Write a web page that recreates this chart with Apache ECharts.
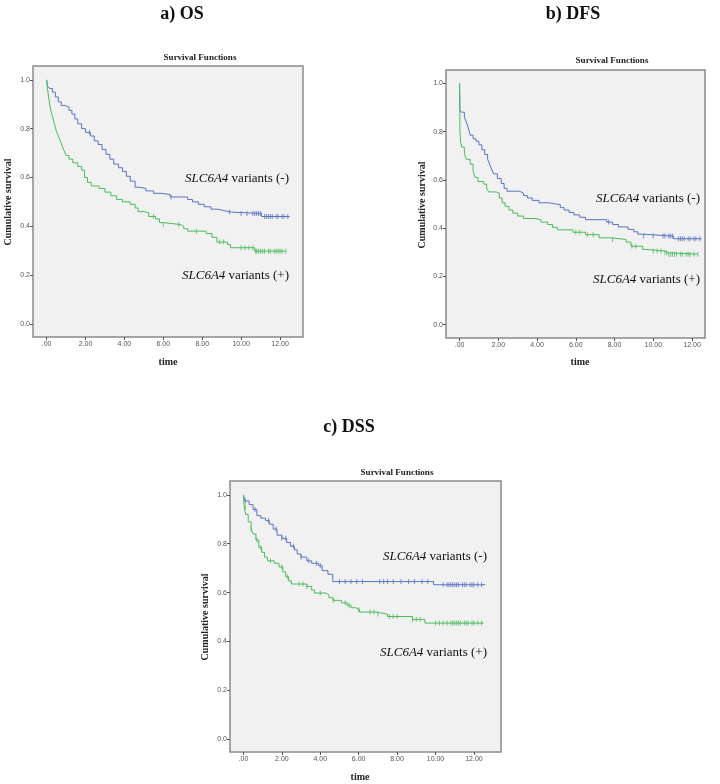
<!DOCTYPE html>
<html><head><meta charset="utf-8">
<script src="https://cdn.jsdelivr.net/npm/echarts@6/dist/echarts.min.js"></script>
<style>html,body{margin:0;padding:0;background:#fff}#c{width:720px;height:784px}</style>
</head><body><div id="c"></div>
<script>
// ---- data ----
const panelTitles = ['a) OS', 'b) DFS', 'c) DSS'];
const xTicks = [0, 2, 4, 6, 8, 10, 12];
const yTicks = [0, 0.2, 0.4, 0.6, 0.8, 1.0];
const groupNames = ['SLC6A4 variants (-)', 'SLC6A4 variants (+)'];

const osNeg = [[0,1.0],[0.05,0.975],[0.15,0.965],[0.3,0.95],[0.45,0.93],[0.6,0.91],[0.75,0.895],[0.95,0.888],[1.15,0.875],[1.3,0.86],[1.45,0.84],[1.6,0.82],[1.8,0.8],[2.0,0.785],[2.25,0.77],[2.45,0.75],[2.65,0.735],[2.85,0.715],[3.05,0.695],[3.25,0.675],[3.45,0.655],[3.7,0.64],[3.9,0.625],[4.1,0.605],[4.3,0.585],[4.55,0.56],[4.75,0.555],[5.1,0.545],[5.5,0.535],[5.9,0.53],[6.35,0.52],[7.25,0.51],[7.5,0.5],[7.8,0.49],[8.1,0.48],[8.45,0.47],[8.8,0.465],[9.05,0.458],[9.5,0.452],[11.05,0.44],[12.5,0.44]];
const osPos = [[0,1.0],[0.05,0.96],[0.12,0.92],[0.2,0.88],[0.3,0.85],[0.4,0.82],[0.5,0.79],[0.6,0.77],[0.7,0.75],[0.8,0.73],[0.9,0.71],[1.0,0.69],[1.15,0.675],[1.35,0.66],[1.6,0.645],[1.8,0.63],[1.95,0.6],[2.1,0.58],[2.3,0.565],[2.7,0.555],[3.0,0.54],[3.3,0.525],[3.6,0.51],[3.9,0.5],[4.3,0.49],[4.55,0.475],[4.7,0.46],[5.0,0.455],[5.25,0.44],[5.6,0.43],[5.8,0.415],[6.0,0.407],[6.9,0.4],[7.05,0.39],[7.25,0.38],[8.2,0.37],[8.5,0.355],[8.75,0.335],[9.3,0.325],[9.45,0.312],[10.7,0.298],[12.3,0.298]];
const osNegCens = [2.2,6.4,9.4,10.0,10.3,10.6,10.7,10.8,10.9,11.0,11.2,11.3,11.4,11.5,11.6,11.8,11.9,12.1,12.2,12.4];
const osPosCens = [5.5,6.0,6.8,7.7,8.9,9.1,10.0,10.2,10.4,10.6,10.75,10.8,10.9,11.0,11.1,11.2,11.4,11.5,11.7,11.8,11.9,12.0,12.1,12.3];

const dfsNeg = [[0,1.0],[0.02,0.89],[0.1,0.88],[0.25,0.86],[0.35,0.84],[0.45,0.815],[0.55,0.785],[0.7,0.77],[0.85,0.76],[1.0,0.745],[1.15,0.725],[1.3,0.705],[1.45,0.685],[1.55,0.665],[1.65,0.645],[1.75,0.625],[1.95,0.605],[2.15,0.585],[2.3,0.565],[2.45,0.553],[3.1,0.545],[3.3,0.535],[3.5,0.525],[3.75,0.515],[4.1,0.505],[4.6,0.497],[5.2,0.485],[5.4,0.475],[5.65,0.465],[5.9,0.455],[6.2,0.445],[6.5,0.435],[7.6,0.425],[7.9,0.415],[8.2,0.405],[8.7,0.395],[9.0,0.385],[9.2,0.375],[9.45,0.367],[11.05,0.356],[12.5,0.356]];
const dfsPos = [[0,1.0],[0.02,0.8],[0.05,0.76],[0.12,0.735],[0.25,0.71],[0.35,0.685],[0.55,0.665],[0.7,0.635],[0.8,0.61],[0.95,0.593],[1.25,0.582],[1.4,0.565],[1.5,0.55],[1.9,0.545],[2.05,0.525],[2.2,0.505],[2.35,0.49],[2.55,0.475],[2.75,0.462],[3.0,0.45],[3.3,0.44],[3.9,0.435],[4.2,0.425],[4.55,0.415],[4.8,0.403],[5.05,0.393],[5.85,0.383],[6.5,0.373],[7.2,0.36],[7.8,0.353],[8.6,0.342],[8.85,0.325],[9.45,0.312],[9.6,0.305],[10.6,0.298],[10.75,0.292],[12.3,0.292]];
const dfsNegCens = [7.7,9.5,10.0,10.5,10.6,10.8,10.9,11.0,11.3,11.4,11.5,11.6,11.8,11.9,12.1,12.2,12.4];
const dfsPosCens = [6.0,6.2,6.6,6.9,7.9,8.9,9.1,10.0,10.2,10.4,10.6,10.7,10.8,10.9,11.0,11.1,11.2,11.4,11.5,11.7,11.8,11.9,12.1,12.3];

const dssNeg = [[0,1.0],[0.08,0.975],[0.3,0.96],[0.5,0.94],[0.7,0.915],[0.9,0.905],[1.15,0.895],[1.35,0.88],[1.55,0.86],[1.75,0.835],[2.0,0.822],[2.25,0.805],[2.45,0.79],[2.65,0.775],[2.8,0.758],[3.0,0.745],[3.3,0.73],[3.55,0.72],[3.9,0.71],[4.1,0.69],[4.4,0.675],[4.65,0.645],[9.9,0.632],[12.6,0.632]];
const dssPos = [[0,1.0],[0.04,0.95],[0.12,0.92],[0.25,0.89],[0.4,0.86],[0.5,0.84],[0.65,0.815],[0.8,0.785],[0.95,0.765],[1.1,0.745],[1.25,0.73],[1.6,0.72],[1.85,0.705],[2.05,0.685],[2.2,0.665],[2.35,0.648],[2.5,0.635],[3.3,0.625],[3.55,0.61],[3.7,0.598],[4.3,0.59],[4.45,0.58],[4.65,0.568],[5.1,0.558],[5.4,0.548],[5.6,0.538],[5.85,0.53],[6.05,0.52],[6.9,0.512],[7.5,0.502],[8.8,0.49],[9.45,0.475],[12.5,0.475]];
const dssNegCens = [0.1,0.6,1.3,1.7,2.0,2.2,2.6,3.0,3.4,3.8,4.0,5.0,5.3,5.6,5.9,6.2,7.1,7.3,7.5,7.8,8.2,8.6,8.9,9.3,9.6,10.4,10.6,10.7,10.8,10.9,11.0,11.1,11.2,11.4,11.5,11.6,11.8,11.9,12.0,12.2,12.4];
const dssPosCens = [0.1,0.4,0.7,0.9,1.4,2.0,2.3,2.9,3.1,3.3,4.0,4.7,5.3,5.5,6.0,6.6,6.8,7.0,7.6,7.8,8.0,8.8,9.0,9.2,10.0,10.2,10.4,10.6,10.8,10.9,11.0,11.1,11.2,11.3,11.5,11.6,11.7,11.9,12.0,12.2,12.4];

// ---- layout ----
const BLUE = '#5b73c2', GREEN = '#4cbb5e';
const panels = [
  {neg: osNeg, pos: osPos, negC: osNegCens, posC: osPosCens,
   grid: {left: 33, top: 66, width: 270, height: 271}, x: [-0.70, 13.18], y: [-0.054, 1.057],
   title: [182, 14], sub: [200, 58], ylab: [8, 202], xlab: [168, 362], ann: [289, 179, 276]},
  {neg: dfsNeg, pos: dfsPos, negC: dfsNegCens, posC: dfsPosCens,
   grid: {left: 446, top: 70, width: 259, height: 268}, x: [-0.70, 12.67], y: [-0.055, 1.055],
   title: [573, 14], sub: [612, 61], ylab: [422, 205], xlab: [580, 362], ann: [700, 199, 280]},
  {neg: dssNeg, pos: dssPos, negC: dssNegCens, posC: dssPosCens,
   grid: {left: 230, top: 481, width: 271, height: 271}, x: [-0.70, 13.41], y: [-0.053, 1.057],
   title: [349, 427], sub: [397, 473], ylab: [205, 617], xlab: [360, 777], ann: [487, 557, 653]}
];

function lookup(steps, t) {
  let s = steps[0][1];
  for (const p of steps) { if (p[0] <= t) s = p[1]; }
  return s;
}

const grids = [], xAxes = [], yAxes = [], series = [], graphics = [];
const tickLabel = {fontFamily: 'Liberation Sans, Arial', fontSize: 7, color: '#555'};
panels.forEach((p, i) => {
  grids.push(Object.assign({show: true, backgroundColor: '#f1f1f1', borderColor: '#8a8a8a', borderWidth: 1.5}, p.grid));
  xAxes.push({type: 'value', gridIndex: i, min: p.x[0], max: p.x[1], position: 'bottom',
    axisLine: {show: false, onZero: false}, splitLine: {show: false},
    axisTick: {show: true, customValues: xTicks, length: 3, lineStyle: {color: '#555'}},
    axisLabel: Object.assign({customValues: xTicks, margin: 4,
      formatter: v => v === 0 ? '.00' : v.toFixed(2)}, tickLabel)});
  yAxes.push({type: 'value', gridIndex: i, min: p.y[0], max: p.y[1], position: 'left',
    axisLine: {show: false, onZero: false}, splitLine: {show: false},
    axisTick: {show: true, customValues: yTicks, length: 3, lineStyle: {color: '#555'}},
    axisLabel: Object.assign({customValues: yTicks, margin: 3,
      formatter: v => v.toFixed(1)}, tickLabel)});
  [[p.neg, p.negC, BLUE], [p.pos, p.posC, GREEN]].forEach(([steps, cens, col]) => {
    series.push({type: 'line', xAxisIndex: i, yAxisIndex: i, data: steps, step: 'end',
      showSymbol: false, symbol: 'none', lineStyle: {color: col, width: 1}, silent: true, z: 3});
    series.push({type: 'scatter', xAxisIndex: i, yAxisIndex: i,
      data: cens.map(t => [t, lookup(steps, t)]),
      symbol: 'rect', symbolSize: [1, 5], itemStyle: {color: col}, silent: true, z: 4});
  });
  const serif = 'Liberation Serif, Times New Roman, serif';
  graphics.push({type: 'text', x: p.title[0], y: p.title[1],
    style: {text: panelTitles[i], font: 'bold 18px ' + serif, fill: '#111', align: 'center', verticalAlign: 'middle'}});
  graphics.push({type: 'text', x: p.sub[0], y: p.sub[1],
    style: {text: 'Survival Functions', font: 'bold 9px ' + serif, fill: '#222', align: 'center', verticalAlign: 'middle'}});
  graphics.push({type: 'text', x: p.ylab[0], y: p.ylab[1], rotation: Math.PI / 2,
    style: {text: 'Cumulative survival', font: 'bold 10px ' + serif, fill: '#222', align: 'center', verticalAlign: 'middle'}});
  graphics.push({type: 'text', x: p.xlab[0], y: p.xlab[1],
    style: {text: 'time', font: 'bold 10px ' + serif, fill: '#222', align: 'center', verticalAlign: 'middle'}});
  [[p.ann[1], '(-)'], [p.ann[2], '(+)']].forEach(([yy, sign]) => {
    graphics.push({type: 'text', x: p.ann[0], y: yy, z: 10,
      style: {text: '{i|SLC6A4} variants ' + sign, align: 'right', verticalAlign: 'middle',
        font: '13px ' + serif, fill: '#111',
        rich: {i: {fontStyle: 'italic', fontFamily: serif, fontSize: 13, fill: '#111', color: '#111'}}}});
  });
});

const chart = echarts.init(document.getElementById('c'), null, {renderer: 'canvas'});
chart.setOption({animation: false, grid: grids, xAxis: xAxes, yAxis: yAxes, series: series, graphic: graphics});
</script></body></html>
